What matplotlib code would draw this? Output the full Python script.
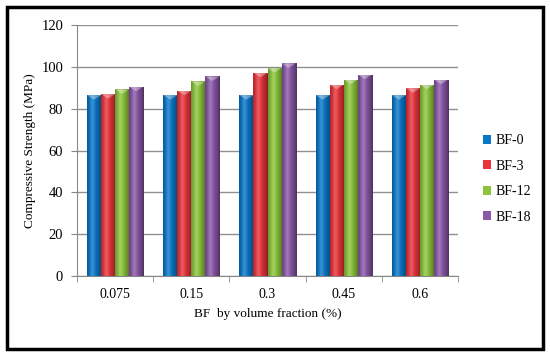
import numpy as np
import matplotlib.pyplot as plt
from matplotlib.colors import to_rgb
from matplotlib.patches import Rectangle

categories = ["0.075", "0.15", "0.3", "0.45", "0.6"]
series = ["BF-0", "BF-3", "BF-12", "BF-18"]
values = {
    "BF-0": [86.5, 86.5, 86.5, 86.5, 86.5],
    "BF-3": [87.0, 88.6, 97.2, 91.5, 89.8],
    "BF-12": [89.2, 93.0, 99.4, 93.9, 91.5],
    "BF-18": [90.5, 95.4, 101.7, 96.3, 93.9],
}
colors = ["#0a78c8", "#e8343c", "#8cc43c", "#8a58a8"]

plt.rcParams['font.family'] = ['Liberation Serif', 'DejaVu Serif']

fig = plt.figure(figsize=(5.5, 3.56), dpi=100)
ax = fig.add_axes([77 / 550, 80 / 356, 381 / 550, 251 / 356])

x = np.arange(len(categories))
w = 0.184
offsets = (np.arange(len(series)) - 1.5) * w


def shade(c, t):
    # horizontal shading: darker edges, soft highlight left of centre
    r = np.array(to_rgb(c))
    prof = 1 - 0.5 * np.abs(t - 0.4) ** 1.5 * 1.8
    hi = np.clip(1 - np.abs(t - 0.35) / 0.25, 0, 1) * 0.2
    out = r[None, :] * prof[:, None] + hi[:, None] * (1 - r[None, :])
    return np.clip(out, 0, 1)


t = np.linspace(0, 1, 32)
for i, s in enumerate(series):
    bars = ax.bar(x + offsets[i], values[s], w, color=colors[i], label=s,
                  edgecolor="none", zorder=3)
    grad = shade(colors[i], t)[None, :, :]
    for b in bars:
        x0, h = b.get_x(), b.get_height()
        im = ax.imshow(grad, extent=[x0, x0 + w, 0, h], aspect="auto",
                       zorder=3.1, interpolation="bilinear")
        im.set_clip_path(b)
        # small lighter cap at the top
        tip = plt.Polygon([[x0, h], [x0 + w, h], [x0 + w / 2, h - 2.2]],
                          closed=True, color="white", alpha=0.35, lw=0, zorder=3.2)
        ax.add_patch(tip)

ax.set_xlim(-0.5, len(categories) - 0.5)
ax.set_ylim(0, 120)
ax.set_yticks(range(0, 121, 20))
ax.set_xticks(x)
ax.set_xticklabels(categories)
ax.set_xticks(np.arange(-0.5, len(categories)), minor=True)
ax.tick_params(axis="x", which="major", length=0, pad=9, labelsize=10)
ax.tick_params(axis="x", which="minor", length=4, color="#888888")
ax.tick_params(axis="y", length=4, color="#888888", labelsize=10.5, pad=6)
ax.grid(axis="y", color="#909090", lw=1, zorder=0)
ax.set_axisbelow(True)
for sp in ["top", "right"]:
    ax.spines[sp].set_visible(False)
for sp in ["left", "bottom"]:
    ax.spines[sp].set_color("#888888")

ax.set_ylabel("Compressive Strength (MPa)", fontsize=9.5, labelpad=4)
ax.set_xlabel("BF  by volume fraction (%)", fontsize=9.5, labelpad=5)

ax.legend(loc="center left", bbox_to_anchor=(477 / 550, 177 / 356),
          bbox_transform=fig.transFigure, frameon=False, fontsize=10,
          handlelength=0.6, handleheight=0.6, handletextpad=0.3,
          labelspacing=0.9, borderaxespad=0)

fig.patches.append(Rectangle((7 / 550, 7 / 356), 536 / 550, 342 / 356,
                             transform=fig.transFigure, fill=False,
                             lw=2.5, ec="black"))

fig.savefig("out.png", dpi=100)
